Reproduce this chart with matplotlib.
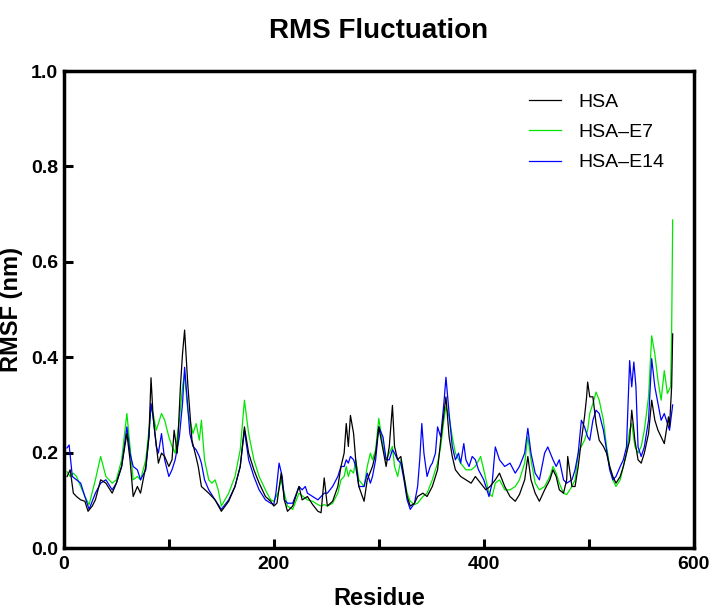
import numpy as np
import matplotlib
matplotlib.use("Agg")
import matplotlib.pyplot as plt

plt.rcParams.update({"font.family": ["Liberation Sans", "DejaVu Sans"]})

# values (residue, RMSF in nm)
hsa_res = [3, 6, 9, 12, 16, 20, 23, 27, 30, 35, 40, 46, 50, 55, 60, 63, 66, 70, 73, 78,
           81, 83, 85, 90, 93, 96, 100, 103, 105, 108, 111, 113, 115, 118, 122, 125, 128, 131, 138, 144,
           150, 157, 163, 168, 172, 176, 181, 186, 192, 197, 200, 203, 207, 210, 213, 218, 224, 227, 232, 237,
           242, 245, 248, 251, 256, 261, 264, 267, 269, 271, 273, 276, 278, 281, 286, 289, 294, 297, 300, 304,
           307, 310, 313, 315, 318, 321, 324, 327, 330, 334, 337, 342, 346, 351, 356, 359, 362, 364, 367, 370,
           373, 378, 383, 388, 392, 397, 402, 406, 411, 415, 420, 425, 430, 434, 439, 442, 445, 449, 453, 458,
           463, 466, 469, 472, 476, 479, 480, 484, 487, 490, 493, 496, 498, 499, 501, 504, 507, 510, 514, 517,
           520, 523, 526, 530, 533, 536, 539, 541, 544, 547, 550, 553, 557, 560, 563, 566, 569, 572, 576, 577,
           579, 580]
hsa_rmsf = [0.150, 0.164, 0.115, 0.108, 0.101, 0.098, 0.077, 0.088, 0.101, 0.143, 0.136, 0.115, 0.136, 0.171, 0.240, 0.185, 0.108, 0.129, 0.115, 0.171,
            0.233, 0.357, 0.275, 0.178, 0.199, 0.192, 0.171, 0.185, 0.247, 0.199, 0.338, 0.407, 0.457, 0.344, 0.226, 0.199, 0.171, 0.129, 0.115, 0.101,
            0.077, 0.098, 0.129, 0.171, 0.254, 0.199, 0.164, 0.136, 0.108, 0.098, 0.088, 0.094, 0.157, 0.101, 0.077, 0.088, 0.129, 0.101, 0.108, 0.091,
            0.077, 0.074, 0.147, 0.088, 0.098, 0.129, 0.171, 0.199, 0.261, 0.213, 0.278, 0.240, 0.185, 0.129, 0.098, 0.143, 0.171, 0.199, 0.254, 0.206,
            0.171, 0.213, 0.299, 0.213, 0.185, 0.192, 0.150, 0.108, 0.088, 0.094, 0.108, 0.115, 0.108, 0.129, 0.164, 0.226, 0.282, 0.317, 0.233, 0.192,
            0.164, 0.150, 0.143, 0.136, 0.150, 0.136, 0.122, 0.129, 0.143, 0.157, 0.129, 0.108, 0.098, 0.112, 0.143, 0.192, 0.143, 0.115, 0.098, 0.122,
            0.143, 0.164, 0.150, 0.122, 0.115, 0.143, 0.192, 0.129, 0.129, 0.171, 0.226, 0.275, 0.317, 0.348, 0.317, 0.317, 0.261, 0.226, 0.213, 0.199,
            0.171, 0.150, 0.136, 0.150, 0.171, 0.199, 0.226, 0.289, 0.226, 0.185, 0.178, 0.199, 0.240, 0.310, 0.268, 0.247, 0.233, 0.219, 0.275, 0.254,
            0.338, 0.449]

e7_res = [3, 6, 9, 12, 16, 20, 24, 30, 35, 40, 46, 50, 55, 60, 63, 66, 70, 73, 78, 81,
          83, 85, 88, 90, 93, 96, 100, 103, 106, 110, 113, 115, 118, 120, 123, 126, 129, 131, 134, 138,
          141, 144, 147, 150, 157, 163, 168, 172, 176, 181, 186, 192, 197, 200, 204, 207, 210, 213, 218, 224,
          232, 237, 242, 245, 248, 251, 256, 261, 264, 267, 269, 271, 273, 276, 278, 281, 286, 289, 292, 294,
          297, 300, 304, 307, 310, 313, 315, 318, 321, 324, 327, 330, 334, 337, 342, 346, 351, 356, 359, 362,
          364, 367, 370, 373, 378, 383, 388, 392, 397, 400, 405, 408, 411, 415, 420, 425, 430, 434, 439, 442,
          445, 449, 453, 458, 463, 466, 469, 472, 476, 479, 484, 487, 490, 493, 496, 499, 501, 504, 507, 510,
          514, 517, 520, 523, 526, 530, 533, 536, 539, 541, 544, 547, 550, 553, 557, 560, 563, 566, 569, 572,
          575, 578, 579, 580]
e7_rmsf = [0.160, 0.150, 0.157, 0.150, 0.129, 0.108, 0.091, 0.143, 0.192, 0.150, 0.136, 0.143, 0.185, 0.282, 0.213, 0.143, 0.150, 0.143, 0.185, 0.247,
           0.296, 0.282, 0.247, 0.261, 0.282, 0.268, 0.233, 0.213, 0.199, 0.268, 0.338, 0.365, 0.289, 0.268, 0.240, 0.261, 0.226, 0.268, 0.185, 0.143,
           0.136, 0.143, 0.122, 0.088, 0.115, 0.150, 0.206, 0.310, 0.240, 0.185, 0.150, 0.122, 0.101, 0.098, 0.115, 0.143, 0.115, 0.088, 0.081, 0.115,
           0.101, 0.098, 0.091, 0.088, 0.091, 0.088, 0.094, 0.115, 0.143, 0.150, 0.171, 0.150, 0.164, 0.157, 0.185, 0.143, 0.129, 0.171, 0.199, 0.185,
           0.206, 0.272, 0.213, 0.185, 0.199, 0.213, 0.171, 0.150, 0.185, 0.150, 0.115, 0.098, 0.091, 0.094, 0.108, 0.115, 0.143, 0.178, 0.213, 0.268,
           0.296, 0.275, 0.233, 0.199, 0.178, 0.164, 0.164, 0.171, 0.192, 0.164, 0.115, 0.108, 0.136, 0.143, 0.122, 0.122, 0.129, 0.143, 0.178, 0.233,
           0.185, 0.136, 0.122, 0.129, 0.150, 0.171, 0.157, 0.136, 0.115, 0.112, 0.129, 0.143, 0.199, 0.213, 0.226, 0.247, 0.282, 0.303, 0.327, 0.310,
           0.268, 0.213, 0.171, 0.143, 0.129, 0.143, 0.171, 0.199, 0.247, 0.261, 0.213, 0.199, 0.213, 0.247, 0.317, 0.445, 0.407, 0.351, 0.310, 0.372,
           0.324, 0.338, 0.450, 0.688]

e14_res = [3, 5, 8, 12, 16, 20, 24, 30, 35, 40, 46, 50, 55, 60, 63, 66, 70, 73, 78, 81,
           83, 85, 88, 90, 93, 96, 100, 103, 106, 110, 113, 115, 118, 120, 123, 126, 129, 131, 134, 138,
           144, 150, 157, 163, 168, 172, 176, 181, 186, 192, 197, 200, 202, 205, 208, 210, 213, 218, 224, 227,
           230, 232, 237, 242, 245, 248, 251, 256, 261, 264, 267, 269, 271, 273, 276, 278, 281, 286, 289, 292,
           294, 297, 300, 304, 307, 310, 313, 315, 318, 321, 324, 327, 330, 334, 337, 339, 341, 343, 346, 349,
           351, 354, 356, 359, 362, 364, 367, 370, 373, 376, 378, 381, 383, 386, 389, 392, 395, 400, 405, 408,
           411, 415, 420, 425, 430, 434, 439, 442, 445, 449, 453, 458, 461, 466, 469, 472, 476, 479, 484, 487,
           490, 493, 496, 499, 501, 504, 507, 510, 514, 517, 520, 523, 526, 530, 533, 536, 539, 541, 543, 545,
           547, 550, 553, 557, 560, 563, 566, 569, 572, 575, 577, 579, 580]
e14_rmsf = [0.210, 0.216, 0.150, 0.143, 0.136, 0.108, 0.081, 0.115, 0.136, 0.143, 0.122, 0.136, 0.171, 0.254, 0.199, 0.171, 0.164, 0.143, 0.164, 0.233,
            0.303, 0.275, 0.213, 0.199, 0.240, 0.185, 0.150, 0.164, 0.185, 0.233, 0.303, 0.379, 0.296, 0.240, 0.213, 0.206, 0.192, 0.178, 0.143, 0.122,
            0.101, 0.081, 0.101, 0.129, 0.171, 0.247, 0.185, 0.150, 0.122, 0.101, 0.094, 0.091, 0.115, 0.178, 0.150, 0.101, 0.094, 0.094, 0.129, 0.122,
            0.129, 0.115, 0.108, 0.101, 0.108, 0.115, 0.115, 0.129, 0.150, 0.171, 0.171, 0.185, 0.178, 0.192, 0.185, 0.171, 0.129, 0.129, 0.157, 0.136,
            0.150, 0.185, 0.254, 0.233, 0.185, 0.185, 0.206, 0.199, 0.185, 0.178, 0.143, 0.101, 0.081, 0.094, 0.129, 0.185, 0.261, 0.199, 0.150, 0.171,
            0.178, 0.199, 0.254, 0.233, 0.303, 0.358, 0.282, 0.213, 0.185, 0.199, 0.178, 0.219, 0.185, 0.171, 0.192, 0.185, 0.164, 0.143, 0.108, 0.136,
            0.212, 0.185, 0.171, 0.178, 0.157, 0.171, 0.199, 0.251, 0.199, 0.157, 0.143, 0.199, 0.212, 0.185, 0.171, 0.185, 0.143, 0.136, 0.143, 0.164,
            0.199, 0.268, 0.254, 0.233, 0.226, 0.268, 0.289, 0.282, 0.247, 0.206, 0.164, 0.143, 0.150, 0.171, 0.185, 0.212, 0.393, 0.338, 0.390, 0.338,
            0.212, 0.192, 0.212, 0.268, 0.397, 0.338, 0.303, 0.268, 0.282, 0.261, 0.247, 0.282, 0.300]

fig = plt.figure(figsize=(7.1, 6.13), dpi=100)
ax = fig.add_axes([0.090, 0.106, 0.887, 0.778])

l_e7, = ax.plot(e7_res, e7_rmsf, color="#00E600", lw=0.9, label="HSA\u2013E7", zorder=2)
l_e14, = ax.plot(e14_res, e14_rmsf, color="#0000FF", lw=0.9, label="HSA\u2013E14", zorder=3)
l_hsa, = ax.plot(hsa_res, hsa_rmsf, color="black", lw=0.9, label="HSA", zorder=4)

ax.set_xlim(0, 600)
ax.set_ylim(0, 1.0)
ax.set_xticks([0, 200, 400, 600])
ax.set_xticks([100, 300, 500], minor=True)
ax.set_yticks(np.arange(0, 1.01, 0.2))
ax.set_yticklabels([f"{v:.1f}" for v in np.arange(0, 1.01, 0.2)])
ax.tick_params(axis="both", which="both", direction="in", width=2.2, length=6.5,
               labelsize=14, pad=4)
ax.tick_params(axis="x", pad=6)
for lab in ax.get_xticklabels() + ax.get_yticklabels():
    lab.set_fontweight("bold")
for sp in ax.spines.values():
    sp.set_linewidth(2.5)

ax.set_xlabel("Residue", fontsize=17, fontweight="bold", labelpad=10)
ax.set_ylabel("RMSF (nm)", fontsize=17, fontweight="bold", labelpad=6)
ax.set_title("RMS Fluctuation", fontsize=20, fontweight="bold", pad=24)

ax.legend(handles=[l_hsa, l_e7, l_e14], loc="upper left", frameon=False,
          fontsize=14, handlelength=1.65, handletextpad=0.9, labelspacing=0.65,
          bbox_to_anchor=(0.71, 0.99))

fig.savefig("out.png", dpi=100)
